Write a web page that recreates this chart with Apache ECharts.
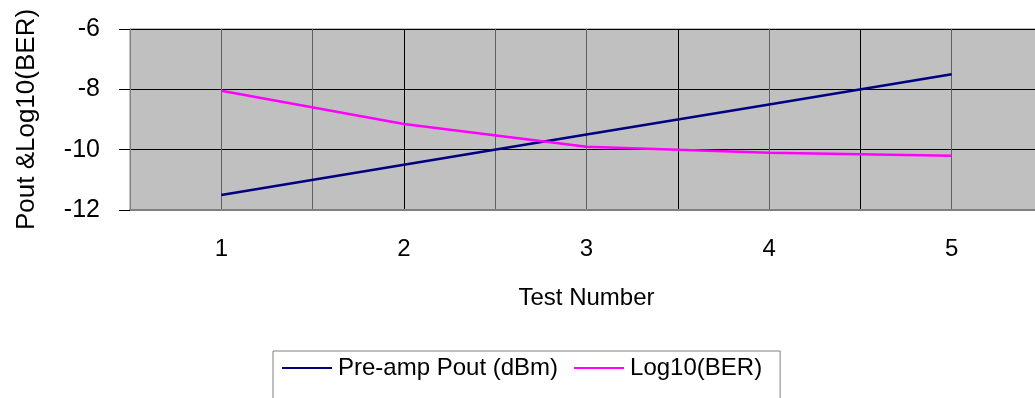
<!DOCTYPE html>
<html><head><meta charset="utf-8">
<script src="https://cdn.jsdelivr.net/npm/echarts@6/dist/echarts.min.js"></script>
<style>html,body{margin:0;padding:0;background:#fff;overflow:hidden}#c{width:1035px;height:398px}</style>
</head><body><div id="c"></div>
<script>
const testNumbers = [1, 2, 3, 4, 5];
const preampPout = [-11.5, -10.5, -9.5, -8.5, -7.5];
const log10BER = [-8.05, -9.15, -9.9, -10.1, -10.2];
const yTicks = [-12, -10, -8, -6];

const font = '"Liberation Sans", Arial, sans-serif';
const chart = echarts.init(document.getElementById('c'), null, {renderer: 'canvas'});
chart.setOption({
  animation: false,
  textStyle: {fontFamily: font},
  grid: {left: 130, width: 913, top: 29, height: 181, outerBoundsMode: 'none', containLabel: false, show: true, backgroundColor: '#c0c0c0', borderColor: '#808080', borderWidth: 1},
  legend: {
    left: 273, top: 351,
    padding: [5, 18, 40, 9],
    borderColor: '#808080', borderWidth: 1,
    icon: 'rect',
    itemWidth: 50, itemHeight: 2, itemGap: 16,
    textStyle: {fontFamily: font, fontSize: 24, color: '#000', padding: [0, 0, 0, 1]},
    data: ['Pre-amp Pout (dBm)', 'Log10(BER)']
  },
  xAxis: {
    type: 'value', min: 0.5, max: 5.5, interval: 0.5,
    name: 'Test Number', nameLocation: 'middle', nameGap: 76,
    nameTextStyle: {fontSize: 24, color: '#000', fontFamily: font},
    axisLine: {show: true, lineStyle: {color: '#808080', width: 2}},
    axisTick: {show: false},
    axisLabel: {fontSize: 24, color: '#000', margin: 27, showMinLabel: true, showMaxLabel: true,
      formatter: v => (testNumbers.indexOf(v) >= 0 ? String(v) : '')},
    splitLine: {show: true, lineStyle: {width: 1, color: ['#808080', '#606060', '#606060', '#000', '#606060', '#606060', '#000', '#606060', '#000', '#606060', '#808080']}}
  },
  yAxis: {
    type: 'value', min: yTicks[0], max: yTicks[yTicks.length - 1], interval: 2,
    name: 'Pout &Log10(BER)', nameLocation: 'middle', nameGap: 90, nameRotate: 90,
    nameTextStyle: {fontSize: 26, color: '#000', fontFamily: font},
    axisLine: {show: true, lineStyle: {color: '#808080', width: 1}},
    axisTick: {show: true, length: 11, lineStyle: {color: '#000'}},
    axisLabel: {fontSize: 25, color: '#000', margin: 30},
    splitLine: {show: true, lineStyle: {color: '#000', width: 1}}
  },
  series: [
    {name: 'Pre-amp Pout (dBm)', type: 'line', symbol: 'none', lineStyle: {color: '#000080', width: 2.5}, itemStyle: {color: '#000080'},
      data: testNumbers.map((t, i) => [t, preampPout[i]])},
    {name: 'Log10(BER)', type: 'line', symbol: 'none', lineStyle: {color: '#ff00ff', width: 2.5}, itemStyle: {color: '#ff00ff'},
      data: testNumbers.map((t, i) => [t, log10BER[i]])}
  ]
});
</script></body></html>
